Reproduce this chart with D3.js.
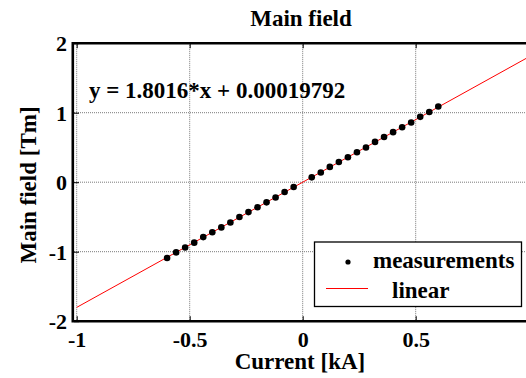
<!DOCTYPE html>
<html>
<head>
<meta charset="utf-8">
<script src="https://cdn.jsdelivr.net/npm/d3@7/dist/d3.min.js"></script>
<style>
  body { margin: 0; background: #fff; }
  text { font-family: "Liberation Serif", "Times New Roman", serif; font-weight: bold; fill: #000; }
</style>
</head>
<body>
<div id="chart"></div>
<script>
// measured points (Current [kA], Main field [Tm])
var current = [-0.60, -0.56, -0.52, -0.48, -0.44, -0.40, -0.36, -0.32, -0.28, -0.24,
  -0.20, -0.16, -0.12, -0.08, -0.04, 0.04, 0.08, 0.12, 0.16, 0.20,
  0.24, 0.28, 0.32, 0.36, 0.40, 0.44, 0.48, 0.52, 0.56, 0.60];
var field = [-1.09, -1.01, -0.94, -0.87, -0.79, -0.72, -0.65, -0.58, -0.50, -0.43,
  -0.36, -0.29, -0.22, -0.14, -0.07, 0.07, 0.14, 0.22, 0.29, 0.36,
  0.43, 0.50, 0.58, 0.65, 0.72, 0.79, 0.86, 0.94, 1.01, 1.09];

// linear fit from the label
var slope = 1.8016;
var intercept = 0.00019792;
var fitRange = [-1, 1];

var xTicks = [-1, -0.5, 0, 0.5, 1];
var xTickLabels = ['-1', '-0.5', '0', '0.5', '']; // "1" falls outside the picture
var yTicks = [-2, -1, 0, 1, 2];
var yTickLabels = ['-2', '-1', '0', '1', '2'];

var width = 526, height = 378;

var svg = d3.select('#chart').append('svg')
  .attr('width', width)
  .attr('height', height);

var x = d3.scaleLinear().domain([-1, 1]).range([76.7, 528.7]);
var y = d3.scaleLinear().domain([-2, 2]).range([321.2, 43.2]);

// dotted grid
var grid = svg.append('g').attr('class', 'grid');
grid.selectAll('line.gx')
  .data(xTicks)
  .enter().append('line')
  .attr('x1', function (d) { return x(d); })
  .attr('x2', function (d) { return x(d); })
  .attr('y1', y(2))
  .attr('y2', y(-2))
  .attr('stroke', '#7a7a7a')
  .attr('stroke-width', 1)
  .attr('stroke-dasharray', '1,1');
grid.selectAll('line.gy')
  .data(yTicks.filter(function (d) { return d > -2 && d < 2; }))
  .enter().append('line')
  .attr('x1', 72)
  .attr('x2', width)
  .attr('y1', function (d) { return y(d); })
  .attr('y2', function (d) { return y(d); })
  .attr('stroke', '#7a7a7a')
  .attr('stroke-width', 1)
  .attr('stroke-dasharray', '1,1');

// fit line
svg.append('path')
  .datum(fitRange)
  .attr('fill', 'none')
  .attr('stroke', '#ff0000')
  .attr('stroke-width', 1)
  .attr('d', d3.line()
    .x(function (d) { return x(d); })
    .y(function (d) { return y(slope * d + intercept); }));

// measurements
svg.selectAll('circle.pt')
  .data(current)
  .enter().append('circle')
  .attr('class', 'pt')
  .attr('cx', function (d) { return x(d); })
  .attr('cy', function (d, i) { return y(field[i]); })
  .attr('r', 3.3)
  .attr('fill', '#000');

// axes
var xAxis = d3.axisBottom(x)
  .tickValues(xTicks)
  .tickFormat(function (d, i) { return xTickLabels[i]; })
  .tickSizeInner(-5)
  .tickSizeOuter(0);
var gx = svg.append('g')
  .attr('transform', 'translate(0,' + y(-2) + ')')
  .call(xAxis);
gx.select('.domain').remove();
gx.selectAll('text')
  .attr('y', 26)
  .attr('dy', 0)
  .style('font-size', '22px')
  .style('font-family', '"Liberation Serif", serif');

var gxTop = svg.append('g')
  .attr('transform', 'translate(0,' + y(2) + ')')
  .call(d3.axisTop(x).tickValues(xTicks).tickSizeInner(-5).tickSizeOuter(0).tickFormat(''));
gxTop.select('.domain').remove();

var yAxis = d3.axisLeft(y)
  .tickValues(yTicks)
  .tickFormat(function (d, i) { return yTickLabels[i]; })
  .tickSizeInner(-5)
  .tickSizeOuter(0)
  .tickPadding(7);
var gy = svg.append('g')
  .attr('transform', 'translate(74,0)')
  .call(yAxis);
gy.select('.domain').remove();
gy.selectAll('text')
  .attr('dy', '0.34em')
  .style('font-size', '22px')
  .style('font-family', '"Liberation Serif", serif');

svg.selectAll('.tick line').attr('stroke', '#000').attr('stroke-width', 1);

// axes box
svg.append('path')
  .attr('d', 'M' + width + ',' + y(2) + 'H72.8V' + y(-2) + 'H' + width)
  .attr('fill', 'none')
  .attr('stroke', '#000')
  .attr('stroke-width', 2.6);

// equation
svg.append('text')
  .attr('x', 89)
  .attr('y', 98)
  .style('font-size', '23px')
  .text('y = ' + slope + '*x + ' + intercept);

// titles
svg.append('text')
  .attr('x', 301)
  .attr('y', 26)
  .attr('text-anchor', 'middle')
  .style('font-size', '23px')
  .text('Main field');

svg.append('text')
  .attr('x', 300)
  .attr('y', 369)
  .attr('text-anchor', 'middle')
  .style('font-size', '23px')
  .text('Current [kA]');

svg.append('text')
  .attr('transform', 'translate(36,185) rotate(-90)')
  .attr('text-anchor', 'middle')
  .style('font-size', '23px')
  .text('Main field [Tm]');

// legend
var legend = svg.append('g');
legend.append('rect')
  .attr('x', 314.5)
  .attr('y', 242)
  .attr('width', 207)
  .attr('height', 64.5)
  .attr('fill', '#fff')
  .attr('stroke', '#000')
  .attr('stroke-width', 1.3);
legend.append('circle')
  .attr('cx', 348)
  .attr('cy', 262)
  .attr('r', 2.6)
  .attr('fill', '#000');
legend.append('text')
  .attr('x', 373)
  .attr('y', 268)
  .style('font-size', '23px')
  .text('measurements');
legend.append('line')
  .attr('x1', 326)
  .attr('x2', 368)
  .attr('y1', 288.5)
  .attr('y2', 288.5)
  .attr('stroke', '#ff0000')
  .attr('stroke-width', 1);
legend.append('text')
  .attr('x', 392)
  .attr('y', 298)
  .style('font-size', '23px')
  .text('linear');
</script>
</body>
</html>
